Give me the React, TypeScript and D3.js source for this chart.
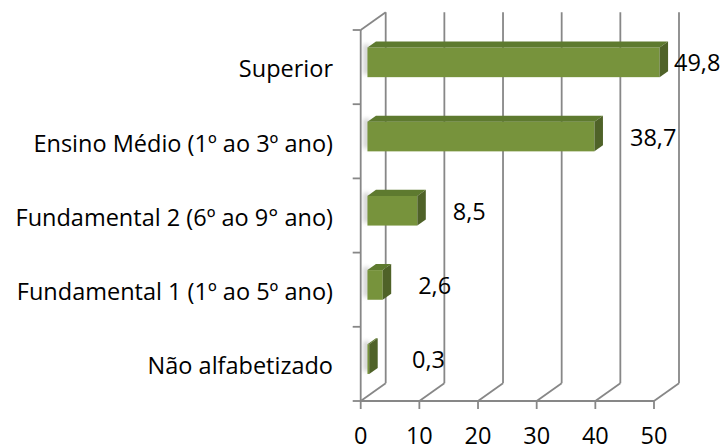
import React from "react";
import * as d3 from "d3";

const categories = [
  "Superior",
  "Ensino Médio (1º ao 3º ano)",
  "Fundamental 2 (6º ao 9° ano)",
  "Fundamental 1 (1º ao 5º ano)",
  "Não alfabetizado",
];
const values = [49.8, 38.7, 8.5, 2.6, 0.3];
const valueLabels = ["49,8", "38,7", "8,5", "2,6", "0,3"];
const xTicks = [0, 10, 20, 30, 40, 50];

const W = 726;
const H = 446;
const FONT = "'Open Sans', 'Noto Sans', sans-serif";
const FS = 23.5;

export default function App() {
  const x = d3.scaleLinear().domain([0, 50]).range([360.7, 654]);
  const y = d3.scaleBand<string>().domain(categories).range([30, 401]).padding(0);
  const bw = y.bandwidth();
  const DX = 25;
  const DY = -17.7;
  const top = 30;
  const bottom = 401;
  const f0 = 0.27;
  const f1 = 0.61;
  const ddx = (f1 - f0) * DX;
  const ddy = (f1 - f0) * DY;
  const h = bw * 0.4;
  const grid = "#878787";
  const edges = categories.map((c) => y(c) as number).concat([bottom]);

  return (
    <div style={{ position: "absolute", left: 0, top: 0, width: W, height: H, overflow: "hidden" }}>
      <svg width={W} height={H} style={{ display: "block", background: "#fff" }}>
        <defs>
          <filter id="sh" x="-50%" y="-50%" width="200%" height="200%">
            <feGaussianBlur stdDeviation="2" />
          </filter>
        </defs>
        {/* back wall gridlines */}
        {xTicks.map((t) => (
          <line key={"g" + t} x1={x(t) + DX} x2={x(t) + DX} y1={top + DY} y2={bottom + DY} stroke={grid} strokeWidth={1.8} />
        ))}
        {/* floor diagonals */}
        {xTicks.map((t) => (
          <line key={"f" + t} x1={x(t)} x2={x(t) + DX} y1={bottom} y2={bottom + DY} stroke={grid} strokeWidth={1.8} />
        ))}
        {/* left wall */}
        <line x1={x(0)} x2={x(0)} y1={top} y2={bottom} stroke={grid} strokeWidth={1.8} />
        <line x1={x(0)} x2={x(0) + DX} y1={top} y2={top + DY} stroke={grid} strokeWidth={1.8} />
        {/* bottom axis */}
        <line x1={x(0)} x2={x(50)} y1={bottom} y2={bottom} stroke={grid} strokeWidth={1.8} />
        {xTicks.map((t) => (
          <line key={"t" + t} x1={x(t)} x2={x(t)} y1={bottom} y2={bottom + 8} stroke={grid} strokeWidth={1.8} />
        ))}
        {edges.map((e, i) => (
          <line key={"e" + i} x1={x(0) - 8} x2={x(0)} y1={e} y2={e} stroke={grid} strokeWidth={1.8} />
        ))}
        {/* bars */}
        {categories.map((c, i) => {
          const v = values[i];
          const x0 = x(0) + f0 * DX;
          const x1 = x(v) + f0 * DX;
          const y0 = (y(c) as number) + f0 * DY + (bw - h) / 2;
          const y1 = y0 + h;
          const topFace = [[x0, y0], [x1, y0], [x1 + ddx, y0 + ddy], [x0 + ddx, y0 + ddy]];
          const side = [[x1, y0], [x1 + ddx, y0 + ddy], [x1 + ddx, y1 + ddy], [x1, y1]];
          const pts = (p: number[][]) => p.map((q) => q.join(",")).join(" ");
          return (
            <g key={c}>
              <rect x={x0 - 4} y={y0 - 3} width={6} height={h} fill="#9a9a9a" opacity={0.45} filter="url(#sh)" />
              <rect x={x0} y={y0} width={x1 - x0} height={h} fill="#77933c" />
              <polygon points={pts(topFace)} fill="#5e7a2f" />
              <polygon points={pts(side)} fill="#4f6228" />
            </g>
          );
        })}
        {/* value labels */}
        {categories.map((c, i) => {
          const v = values[i];
          const xe = x(v) + f0 * DX + ddx;
          const lx = Math.min(Math.max(xe + 27, 412), 674);
          const y0 = (y(c) as number) + f0 * DY + (bw - h) / 2;
          return (
            <text key={"v" + c} x={lx} y={y0 + h / 2 + 9} fontFamily={FONT} fontSize={FS} fill="#000">
              {valueLabels[i]}
            </text>
          );
        })}
        {/* category labels */}
        {categories.map((c) => (
          <text key={"c" + c} x={333} y={(y(c) as number) + bw / 2 + 10.2} textAnchor="end" fontFamily={FONT} fontSize={FS} fill="#000">
            {c}
          </text>
        ))}
        {/* x tick labels */}
        {xTicks.map((t) => (
          <text key={"xl" + t} x={x(t)} y={443.5} textAnchor="middle" fontFamily={FONT} fontSize={FS} fill="#000">
            {t}
          </text>
        ))}
      </svg>
    </div>
  );
}
